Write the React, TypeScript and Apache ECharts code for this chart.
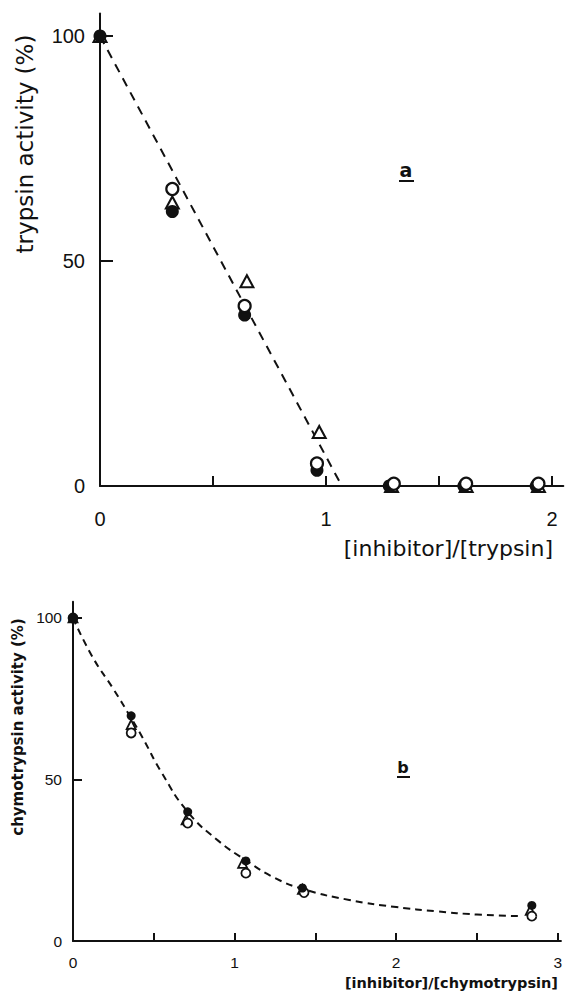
import React, { useEffect, useRef } from "react";
import * as echarts from "echarts";

// ---- Panel a: trypsin activity vs [inhibitor]/[trypsin] ----
const aFilledX = [0, 0.32, 0.64, 0.96, 1.28, 1.61, 1.93];
const aFilledY = [100, 61, 38, 3.5, 0, 0, 0];
const aOpenX = [0.32, 0.64, 0.96, 1.3, 1.62, 1.94];
const aOpenY = [66, 40, 5, 0.5, 0.5, 0.5];
const aTriX = [0, 0.32, 0.65, 0.97, 1.29, 1.62, 1.94];
const aTriY = [100, 63, 45.5, 12, 0, 0, 0];
const aLineX = [0, 1.07, 2.05];
const aLineY = [100, 0, 0];
const aXLabels = [0, 1, 2];
const aXTicks = [0.5, 1, 1.5, 2];
const aYLabels = [0, 50, 100];
const aYTicks = [50, 100];

// ---- Panel b: chymotrypsin activity vs [inhibitor]/[chymotrypsin] ----
const bFilledX = [0, 0.36, 0.71, 1.07, 1.42, 2.84];
const bFilledY = [100, 69.7, 40, 24.8, 16.4, 11];
const bOpenX = [0, 0.36, 0.71, 1.07, 1.43, 2.84];
const bOpenY = [100, 64.4, 36.5, 21, 15, 7.7];
const bTriX = [0, 0.36, 0.7, 1.05, 1.42, 2.83];
const bTriY = [100, 67, 37.5, 24, 16, 9.5];
const bCurveX = [0, 0.12, 0.25, 0.36, 0.43, 0.55, 0.71, 0.9, 1.07, 1.25, 1.43, 1.71, 2.0, 2.25, 2.5, 2.78];
const bCurveY = [100, 88, 78, 69, 63, 52, 40, 31, 25, 19.5, 16, 12.7, 10.5, 9.2, 8.2, 7.7];
const bXLabels = [0, 1, 2, 3];
const bXTicks = [0.5, 1, 1.5, 2, 2.5, 3];
const bYLabels = [0, 50, 100];
const bYTicks = [50, 100];

const zip = (xs: number[], ys: number[]) => xs.map((x, i) => [x, ys[i]]);

export default function App() {
  const ref = useRef<HTMLDivElement>(null);
  useEffect(() => {
    if (!ref.current) return;
    const chart = echarts.init(ref.current, undefined, { renderer: "svg" });
    const black = "#111";
    const tickFontA = { fontFamily: "Liberation Sans", fontSize: 20, color: black };
    const tickFontB = { fontFamily: "Liberation Sans", fontSize: 15.5, color: black };
    const open = (w: number) => ({ color: "#fff", borderColor: black, borderWidth: w, opacity: 1 });
    chart.setOption({
      animation: false,
      backgroundColor: "#fff",
      grid: [
        { left: 100, width: 463.3, top: 13.5, height: 472.5 },
        { left: 73, width: 489.2, top: 601.8, height: 339.2 },
      ],
      xAxis: [
        {
          gridIndex: 0, type: "value", min: 0, max: 2.05,
          splitLine: { show: false },
          axisLine: { lineStyle: { color: black, width: 2 } },
          axisTick: { inside: true, length: 10, customValues: aXTicks, lineStyle: { color: black, width: 2 } },
          axisLabel: { ...tickFontA, margin: 23, customValues: aXLabels, formatter: (v: number) => String(v) },
        },
        {
          gridIndex: 1, type: "value", min: 0, max: 3.02,
          splitLine: { show: false },
          axisLine: { lineStyle: { color: black, width: 2 } },
          axisTick: { inside: true, length: 8, customValues: bXTicks, lineStyle: { color: black, width: 2 } },
          axisLabel: { ...tickFontB, margin: 13, customValues: bXLabels, formatter: (v: number) => String(v) },
        },
      ],
      yAxis: [
        {
          gridIndex: 0, type: "value", min: 0, max: 105,
          splitLine: { show: false },
          axisLine: { lineStyle: { color: black, width: 2 } },
          axisTick: { inside: true, length: 13, customValues: aYTicks, lineStyle: { color: black, width: 2 } },
          axisLabel: { ...tickFontA, margin: 15, customValues: aYLabels, formatter: (v: number) => String(v) },
        },
        {
          gridIndex: 1, type: "value", min: 0, max: 105,
          splitLine: { show: false },
          axisLine: { lineStyle: { color: black, width: 2 } },
          axisTick: { inside: true, length: 9, customValues: bYTicks, lineStyle: { color: black, width: 2 } },
          axisLabel: { ...tickFontB, margin: 11, customValues: bYLabels, formatter: (v: number) => String(v) },
        },
      ],
      series: [
        {
          type: "line", xAxisIndex: 0, yAxisIndex: 0, data: zip(aLineX, aLineY),
          symbol: "none", lineStyle: { color: black, width: 2, type: [9, 7] }, z: 1,
        },
        {
          name: "triangle a", type: "scatter", xAxisIndex: 0, yAxisIndex: 0, data: zip(aTriX, aTriY),
          symbol: "triangle", symbolSize: [13, 12], itemStyle: open(2), z: 2,
        },
        {
          name: "filled a", type: "scatter", xAxisIndex: 0, yAxisIndex: 0, data: zip(aFilledX, aFilledY),
          symbol: "circle", symbolSize: 13, itemStyle: { color: black, opacity: 1 }, z: 3,
        },
        {
          name: "open a", type: "scatter", xAxisIndex: 0, yAxisIndex: 0, data: zip(aOpenX, aOpenY),
          symbol: "circle", symbolSize: 12, itemStyle: open(2.2), z: 4,
        },
        {
          type: "line", xAxisIndex: 1, yAxisIndex: 1, data: zip(bCurveX, bCurveY), smooth: true,
          symbol: "none", lineStyle: { color: black, width: 2, type: [7, 5] }, z: 1,
        },
        {
          name: "triangle b", type: "scatter", xAxisIndex: 1, yAxisIndex: 1, data: zip(bTriX, bTriY),
          symbol: "triangle", symbolSize: [9, 9], itemStyle: open(1.8), z: 2,
        },
        {
          name: "open b", type: "scatter", xAxisIndex: 1, yAxisIndex: 1, data: zip(bOpenX, bOpenY),
          symbol: "circle", symbolSize: 9, itemStyle: open(1.8), z: 3,
        },
        {
          name: "filled b", type: "scatter", xAxisIndex: 1, yAxisIndex: 1, data: zip(bFilledX, bFilledY),
          symbol: "circle", symbolSize: 9, itemStyle: { color: black, opacity: 1 }, z: 4,
        },
      ],
      graphic: [
        {
          type: "text", x: 25, y: 144, rotation: Math.PI / 2,
          style: { text: "trypsin activity (%)", fontFamily: "DejaVu Sans", fontSize: 23, fill: black, align: "center", verticalAlign: "middle" },
        },
        {
          type: "text", x: 553, y: 548,
          style: { text: "[inhibitor]/[trypsin]", fontFamily: "DejaVu Sans", fontSize: 22, fill: black, align: "right", verticalAlign: "middle" },
        },
        {
          type: "text", x: 406, y: 170,
          style: { text: "a", fontFamily: "DejaVu Sans", fontWeight: "bold", fontSize: 19, fill: black, align: "center", verticalAlign: "middle" },
        },
        { type: "line", shape: { x1: 399, y1: 181, x2: 414, y2: 181 }, style: { stroke: black, lineWidth: 2 } },
        {
          type: "text", x: 18, y: 727, rotation: Math.PI / 2,
          style: { text: "chymotrypsin activity (%)", fontFamily: "DejaVu Sans", fontWeight: "bold", fontSize: 15, fill: black, align: "center", verticalAlign: "middle" },
        },
        {
          type: "text", x: 558, y: 983,
          style: { text: "[inhibitor]/[chymotrypsin]", fontFamily: "DejaVu Sans", fontWeight: "bold", fontSize: 14.5, fill: black, align: "right", verticalAlign: "middle" },
        },
        {
          type: "text", x: 403, y: 767,
          style: { text: "b", fontFamily: "DejaVu Sans", fontWeight: "bold", fontSize: 16, fill: black, align: "center", verticalAlign: "middle" },
        },
        { type: "line", shape: { x1: 397, y1: 777, x2: 410, y2: 777 }, style: { stroke: black, lineWidth: 2 } },
      ],
    });
    return () => chart.dispose();
  }, []);
  return (
    <div
      ref={ref}
      style={{ position: "fixed", left: 0, top: 0, width: 565, height: 991, background: "#fff" }}
    />
  );
}
